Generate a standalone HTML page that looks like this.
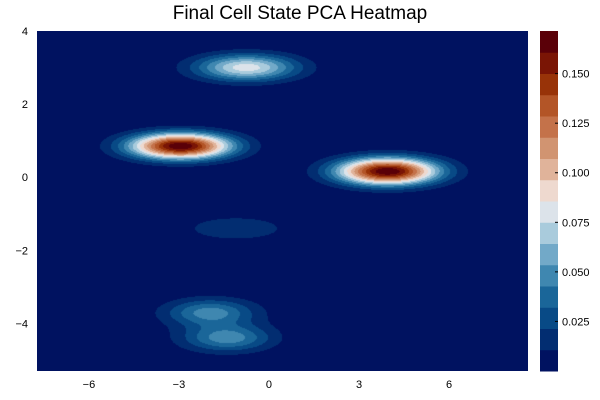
<!DOCTYPE html>
<html><head><meta charset="utf-8"><style>
body{margin:0;background:#fff;font-family:"Liberation Sans",sans-serif}
#wrap{position:relative;width:600px;height:400px}
canvas{position:absolute}
svg{position:absolute;left:0;top:0}
</style></head><body>
<div id="wrap">
<canvas id="hm" width="491" height="340" style="left:37px;top:31px"></canvas>
<svg id="ax" width="600" height="400">
<text x="300" y="19" text-anchor="middle" font-size="19" fill="#000">Final Cell State PCA Heatmap</text>
</svg>
</div>
<script>
const blobX=[3.95,-2.95,-0.75,-1.1,-1.97,-1.37,-1.7];
const blobY=[0.16,0.85,3.0,-1.4,-3.7,-4.4,-4.05];
const blobAmp=[0.171,0.171,0.081,0.0139,0.044,0.045,0.006];
const blobSx=[1.14,1.14,1.16,1.9,1.0,1.0,1.6];
const blobSy=[0.25,0.24,0.25,0.38,0.25,0.25,0.6];
const xTicks=[-6,-3,0,3,6];
const yTicks=[-4,-2,0,2,4];
const cbTicks=[0.025,0.05,0.075,0.1,0.125,0.15];
const bandColors=['#001260','#022d71','#084a86','#1a6699','#3f87b0','#72a9c8','#a9cbdc','#dce3ea','#eed9cf','#e0b39a','#d19471','#c4724a','#b35527','#983308','#7a1505','#5a0008'];
const zMax=0.1715;
const X0=37,X1=528,Y0=31,Y1=371, xmin=-7.73,xmax=8.63,ymin=-5.3,ymax=4;
const sx=v=>X0+(v-xmin)/(xmax-xmin)*(X1-X0);
const sy=v=>Y1-(v-ymin)/(ymax-ymin)*(Y1-Y0);
function field(x,y){let z=0;for(let i=0;i<blobX.length;i++){const dx=(x-blobX[i])/blobSx[i],dy=(y-blobY[i])/blobSy[i];z+=blobAmp[i]*Math.exp(-0.5*(dx*dx+dy*dy));}return z;}
const cv=document.getElementById('hm'),ctx=cv.getContext('2d');
const W=cv.width,H=cv.height,img=ctx.createImageData(W,H);
const rgb=bandColors.map(c=>[parseInt(c.slice(1,3),16),parseInt(c.slice(3,5),16),parseInt(c.slice(5,7),16)]);
const nb=bandColors.length;
for(let j=0;j<H;j++)for(let i=0;i<W;i++){
 const x=xmin+(i+0.5)/W*(xmax-xmin),y=ymax-(j+0.5)/H*(ymax-ymin);
 let k=Math.floor(field(x,y)/zMax*nb);if(k>nb-1)k=nb-1;if(k<0)k=0;
 const p=(j*W+i)*4,c=rgb[k];img.data[p]=c[0];img.data[p+1]=c[1];img.data[p+2]=c[2];img.data[p+3]=255;}
ctx.putImageData(img,0,0);
const svg=document.getElementById('ax'),NS='http://www.w3.org/2000/svg';
function mk(t,a){const e=document.createElementNS(NS,t);for(const k in a)e.setAttribute(k,a[k]);svg.appendChild(e);return e;}
xTicks.forEach(v=>{const t=mk('text',{x:sx(v),y:388,'text-anchor':'middle','font-size':11,fill:'#000'});t.textContent=v<0?'\u2212'+(-v):v;

});
yTicks.forEach(v=>{const t=mk('text',{x:28,y:sy(v)+4,'text-anchor':'end','font-size':11,fill:'#000'});t.textContent=v<0?'\u2212'+(-v):v;

});
const CX0=540,CX1=558;
bandColors.forEach((c,k)=>{const yTop=Y1-(k+1)/nb*(Y1-Y0),yBot=Y1-k/nb*(Y1-Y0);
const r=mk('rect',{x:CX0,y:yTop,width:CX1-CX0,height:yBot-yTop+0.5,fill:c});

});
cbTicks.forEach(v=>{const y=Y1-v/zMax*(Y1-Y0);
const l=mk('line',{x1:CX1-3,x2:CX1,y1:y,y2:y,stroke:'#000','stroke-width':1});


const t=mk('text',{x:562,y:y+4,'font-size':11,fill:'#000'});t.textContent=v.toFixed(3);

});
</script>
</body></html>
